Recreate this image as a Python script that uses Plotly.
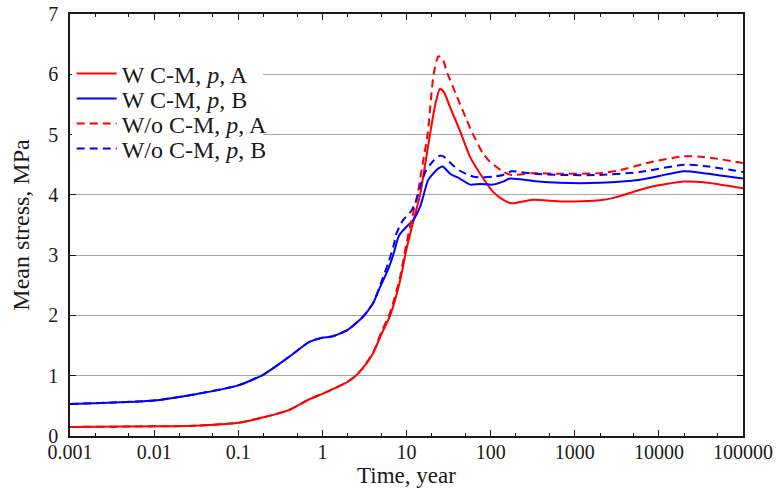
import plotly.graph_objects as go

# W C-M, p, A (solid red)
xa_w = [0.001, 0.01, 0.03, 0.1, 0.2, 0.4, 0.7, 1, 1.5, 2, 2.5, 3, 4, 5, 6.4, 8.4, 10, 12, 14.5, 16, 19, 22, 25, 28, 33, 43, 57, 75, 107, 140, 175, 320, 700, 2000, 2900, 7900, 20000, 34000, 100000]
ya_w = [0.15, 0.16, 0.17, 0.22, 0.31, 0.43, 0.61, 0.70, 0.81, 0.90, 1.0, 1.12, 1.37, 1.68, 2.0, 2.58, 3.1, 3.55, 4.0, 4.35, 5.0, 5.5, 5.76, 5.7, 5.45, 5.07, 4.63, 4.35, 4.05, 3.92, 3.86, 3.92, 3.89, 3.91, 3.95, 4.13, 4.22, 4.21, 4.11]

# W C-M, p, B (solid blue)
xb_w = [0.001, 0.01, 0.03, 0.1, 0.2, 0.4, 0.7, 1, 1.3, 2, 3, 4, 4.85, 6, 7, 8, 8.5, 10, 12, 14.5, 16, 18, 21, 24, 27, 33, 43, 57, 75, 107, 140, 170, 320, 660, 2000, 6000, 20000, 34000, 100000]
yb_w = [0.53, 0.59, 0.69, 0.84, 1.02, 1.31, 1.56, 1.63, 1.65, 1.76, 1.97, 2.2, 2.47, 2.75, 3.02, 3.3, 3.36, 3.47, 3.58, 3.80, 4.0, 4.24, 4.36, 4.44, 4.47, 4.35, 4.27, 4.17, 4.18, 4.17, 4.22, 4.27, 4.23, 4.20, 4.20, 4.25, 4.39, 4.36, 4.27]

# W/o C-M, p, A (dashed red)
xa_wo = [0.001, 0.01, 0.03, 0.1, 0.2, 0.4, 0.7, 1, 1.5, 2, 2.5, 3, 4, 5, 6.4, 8.4, 10, 12, 13.5, 15.5, 17.8, 21, 24, 27, 30, 40, 52, 62, 80, 98, 142, 178, 320, 700, 2000, 3200, 7900, 20000, 34000, 100000]
ya_wo = [0.15, 0.16, 0.17, 0.22, 0.31, 0.43, 0.61, 0.70, 0.81, 0.90, 1.0, 1.12, 1.38, 1.72, 2.05, 2.64, 3.2, 3.7, 4.0, 4.5, 5.0, 6.0, 6.3, 6.25, 6.05, 5.62, 5.24, 5.0, 4.7, 4.55, 4.38, 4.33, 4.36, 4.35, 4.36, 4.40, 4.54, 4.64, 4.63, 4.53]

# W/o C-M, p, B (dashed blue)
xb_wo = [0.001, 0.01, 0.03, 0.1, 0.2, 0.4, 0.7, 1, 1.3, 2, 3, 4, 5, 6, 7, 7.6, 9.1, 11.5, 13, 14.5, 17, 21, 25, 28, 35, 43, 63, 107, 140, 178, 320, 700, 2000, 6000, 20000, 34000, 100000]
yb_wo = [0.53, 0.59, 0.69, 0.84, 1.02, 1.31, 1.56, 1.63, 1.65, 1.76, 1.97, 2.2, 2.55, 2.85, 3.15, 3.36, 3.58, 3.74, 3.9, 4.13, 4.4, 4.57, 4.65, 4.63, 4.5, 4.40, 4.30, 4.30, 4.33, 4.39, 4.35, 4.33, 4.33, 4.38, 4.50, 4.48, 4.38]

names = ["W C-M, <i>p</i>, A", "W C-M, <i>p</i>, B", "W/o C-M, <i>p</i>, A", "W/o C-M, <i>p</i>, B"]

x_tickvals = [0.001, 0.01, 0.1, 1, 10, 100, 1000, 10000, 100000]
x_ticktext = ["0.001", "0.01", "0.1", "1", "10", "100", "1000", "10000", "100000"]
y_tickvals = [0, 1, 2, 3, 4, 5, 6, 7]

FONT = "Liberation Serif"
INK = "#1a1a1a"

fig = go.Figure()
series = [
    (xa_w, ya_w, "#ff0000", "solid", names[0], "legend"),
    (xb_w, yb_w, "#0000ff", "solid", names[1], "legend2"),
    (xa_wo, ya_wo, "#ff0000", "8px,5px", names[2], "legend3"),
    (xb_wo, yb_wo, "#0000ff", "8px,5px", names[3], "legend4"),
]
for xs, ys, col, dash, nm, lg in series:
    fig.add_trace(go.Scatter(x=xs, y=ys, mode="lines", name=nm, legend=lg,
                             line=dict(color=col, width=2, dash=dash, shape="spline", smoothing=0.6)))

# legend rows (pixel rows of a 14..436 plot area)
legend_rows = [74, 99, 124, 149]
leg_common = dict(x=0.0025, xanchor="left", yanchor="middle", bgcolor="rgba(0,0,0,0)",
                  borderwidth=0, font=dict(family=FONT, size=24, color=INK), itemwidth=40)
legs = {}
for i, py in enumerate(legend_rows):
    key = "legend" if i == 0 else f"legend{i+1}"
    legs[key] = dict(leg_common, y=(436 - py) / 422.0)

# white box behind the legend (hides gridlines like the reference's legend frame)
fig.add_shape(type="rect", xref="paper", yref="paper", x0=0.003, x1=0.287, y0=0.649, y1=0.891,
              fillcolor="white", line=dict(width=0), layer="above")

fig.update_layout(
    width=777, height=490,
    margin=dict(l=70, r=34, t=14, b=54, autoexpand=False),
    paper_bgcolor="white", plot_bgcolor="white",
    font=dict(family=FONT, size=20, color=INK),
    showlegend=True,
    **legs,
)
fig.update_xaxes(
    type="log", range=[-3, 5], automargin=False,
    tickvals=x_tickvals, ticktext=x_ticktext,
    ticks="inside", ticklen=6, tickwidth=1, tickcolor=INK,
    minor=dict(ticks="inside", ticklen=3, tickwidth=1, tickcolor=INK, showgrid=False),
    showline=True, linecolor=INK, linewidth=1.5, mirror="allticks",
    showgrid=False, zeroline=False,
    tickfont=dict(family=FONT, size=20, color=INK),
    ticklabelstandoff=-3,
    title=dict(text="Time, year", font=dict(family=FONT, size=23, color=INK), standoff=0),
)
fig.update_yaxes(
    range=[0, 7], tickvals=y_tickvals, automargin=False,
    ticks="inside", ticklen=6, tickwidth=1, tickcolor=INK,
    showline=True, linecolor=INK, linewidth=1.5, mirror="allticks",
    showgrid=True, gridcolor="#a6a6a6", gridwidth=1, zeroline=False,
    tickfont=dict(family=FONT, size=20, color=INK),
    ticklabelstandoff=6,
    title=dict(text="Mean stress, MPa", font=dict(family=FONT, size=24, color=INK), standoff=12),
)
# remove the default 8px page margin so the 777x490 figure fills the window exactly
fig.write_html("out.html", config={"displayModeBar": False},
               post_script="document.body.style.margin='0px';document.body.style.overflow='hidden';")
